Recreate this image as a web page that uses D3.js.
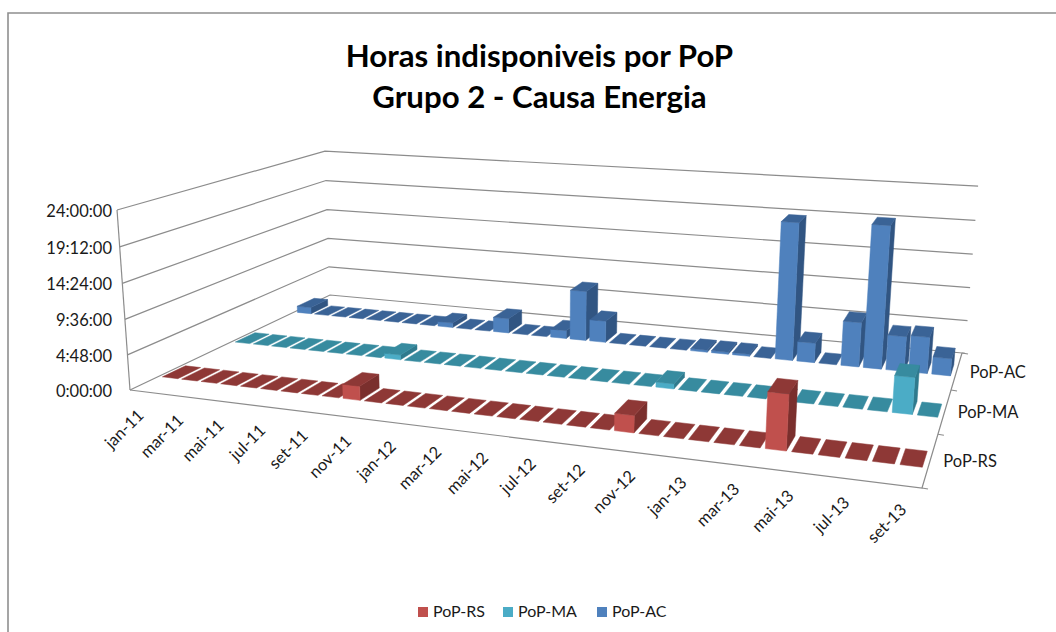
<!DOCTYPE html>
<html><head><meta charset="utf-8"><style>html,body{margin:0;background:#fff}svg{display:block}text{font-family:Lato,sans-serif}</style>
<script src="https://cdn.jsdelivr.net/npm/d3@7"></script></head><body><div id="c"></div>
<script>
const months=["jan-11","fev-11","mar-11","abr-11","mai-11","jun-11","jul-11","ago-11","set-11","out-11","nov-11","dez-11","jan-12","fev-12","mar-12","abr-12","mai-12","jun-12","jul-12","ago-12","set-12","out-12","nov-12","dez-12","jan-13","fev-13","mar-13","abr-13","mai-13","jun-13","jul-13","ago-13","set-13"];
const seriesNames=["PoP-RS","PoP-MA","PoP-AC"];
const popRS=[0,0,0,0,0,0,0,0,0,1.9,0,0,0,0,0,0,0,0,0,0,0,2.2,0,0,0,0,0,6.9,0,0,0,0,0];
const popMA=[0,0,0,0,0,0,0,0,0.7,0,0,0,0,0,0,0,0,0,0,0,0,0.7,0,0,0,0,0,0,0,0,0,4.8,0];
const popAC=[1,0,0,0,0,0,0,0,0.7,0,0,2.2,0,0,1.2,7.4,3.2,0,0,0,0,0.3,0.3,0.3,0,19.6,2.8,0,6.3,20,4.9,5.1,2.4];
const yTicks=[0,4.8,9.6,14.4,19.2,24];
const yLabels=["0:00:00","4:48:00","9:36:00","14:24:00","19:12:00","24:00:00"];
const colors={"PoP-RS":["#c0504d","#8e3836","#7a2f2d"],"PoP-MA":["#4bacc6","#378b9f","#2f7a8d"],"PoP-AC":["#4f81bd","#3a6396","#315582"]};
const W=1056,H=632;
const svg=d3.select("#c").append("svg").attr("width",W).attr("height",H);
// frame
svg.append("path").attr("d","M8,632V13H1056").attr("fill","none").attr("stroke","#8f8f8f").attr("stroke-width",1.6);

// projective frame fitted to the box corners
const FL=[130,390],FR=[922,488],BR=[962,353],BL=[330,295],TFL=[117,210];
function square2quad(p0,p1,p2,p3){ // (0,0),(1,0),(1,1),(0,1)
  const dx1=p1[0]-p2[0],dx2=p3[0]-p2[0],sx=p0[0]-p1[0]+p2[0]-p3[0];
  const dy1=p1[1]-p2[1],dy2=p3[1]-p2[1],sy=p0[1]-p1[1]+p2[1]-p3[1];
  const d=dx1*dy2-dx2*dy1,g=(sx*dy2-dx2*sy)/d,h=(dx1*sy-sx*dy1)/d;
  return {a:[p1[0]-p0[0]+g*p1[0],p1[1]-p0[1]+g*p1[1],g],b:[p3[0]-p0[0]+h*p3[0],p3[1]-p0[1]+h*p3[1],h],o:[p0[0],p0[1],1]};
}
const Hm=square2quad(FL,FR,BR,BL);
const VP=[528,5917];
// third column = alpha*(VP,1) chosen so (0,0,1) lands on TFL
const alpha=(TFL[1]-FL[1])/(VP[1]-TFL[1]);
const cZ=[alpha*VP[0],alpha*VP[1],alpha];
function proj(u,v,w){
  const X=Hm.a[0]*u+Hm.b[0]*v+cZ[0]*w+Hm.o[0],Y=Hm.a[1]*u+Hm.b[1]*v+cZ[1]*w+Hm.o[1],Z=Hm.a[2]*u+Hm.b[2]*v+cZ[2]*w+Hm.o[2];
  return [X/Z,Y/Z];
}
const z=d3.scaleLinear().domain([0,24]).range([0,1]);
const uBand=d3.scaleBand().domain(months).range([0.003,0.997]).paddingInner(0.2).paddingOuter(0.1);
const vBand=d3.scaleBand().domain(seriesNames).range([0,1]).paddingInner(0.7).paddingOuter(0.35);
const line=d3.line();
// gridlines
const g=svg.append("g").attr("fill","none").attr("stroke","#8c8c8c").attr("stroke-width",1.2);
yTicks.forEach(t=>{const w=z(t);g.append("path").attr("d",line([proj(0,0,w),proj(0,1,w),proj(1.004,1,w)]));});
g.append("path").attr("d",line([proj(0,0,0),proj(0,0,1)]));
g.append("path").attr("d",line([proj(0,0,0),proj(1,0,0),proj(1,1,0)]));
[0,1,2,3].forEach(i=>{const p=proj(1,i/3,0);g.append("path").attr("d",line([p,[p[0]+6,p[1]+1]]));});
// y labels
const t=svg.append("g").attr("fill","#1a1a1a").attr("font-size",16.5);
yTicks.forEach((v,i)=>{const p=proj(0,0,z(v));t.append("text").attr("x",112).attr("y",p[1]+7).attr("text-anchor","end").text(yLabels[i]);});
// category labels
months.forEach((m,i)=>{ if(i%2) return;
  const p=proj(uBand(m)+uBand.bandwidth()/2,0,0);
  t.append("text").attr("transform",`translate(${p[0]+3},${p[1]+25}) rotate(-45)`).attr("text-anchor","end").text(m);
});
// series labels
seriesNames.forEach((s,i)=>{const p=proj(1,(i+0.5)/3,0);t.append("text").attr("x",p[0]+13).attr("y",p[1]+7).text(s);});
// bars, back row first, left to right
const rows={"PoP-RS":popRS,"PoP-MA":popMA,"PoP-AC":popAC};
const marks=svg.append("g").attr("stroke-width",0.5);
["PoP-AC","PoP-MA","PoP-RS"].forEach(s=>{
  const c=colors[s],v0=vBand(s),v1=v0+vBand.bandwidth();
  rows[s].forEach((val,i)=>{
    const u0=uBand(months[i]),u1=u0+uBand.bandwidth(),w=z(val);
    const poly=(pts,f)=>marks.append("path").attr("d",line(pts)+"Z").attr("fill",f).attr("stroke",f);
    if(val>0){
      poly([proj(u1,v0,0),proj(u1,v1,0),proj(u1,v1,w),proj(u1,v0,w)],c[2]);
      poly([proj(u0,v0,0),proj(u1,v0,0),proj(u1,v0,w),proj(u0,v0,w)],c[0]);
    }
    poly([proj(u0,v0,w),proj(u1,v0,w),proj(u1,v1,w),proj(u0,v1,w)],c[1]);
  });
});
// title
const title=svg.append("g").attr("font-weight",700).attr("font-size",31.2).attr("text-anchor","middle").attr("fill","#000");
title.append("text").attr("x",539.5).attr("y",67).text("Horas indisponiveis por PoP");
title.append("text").attr("x",539.5).attr("y",108).text("Grupo 2 - Causa Energia");
// legend
const legX=[418,503,597];
seriesNames.forEach((s,i)=>{
  svg.append("rect").attr("x",legX[i]).attr("y",607).attr("width",10).attr("height",10).attr("fill",colors[s][0]);
  svg.append("text").attr("x",legX[i]+15).attr("y",617).attr("font-size",16).attr("fill","#1a1a1a").text(s);
});
</script></body></html>
